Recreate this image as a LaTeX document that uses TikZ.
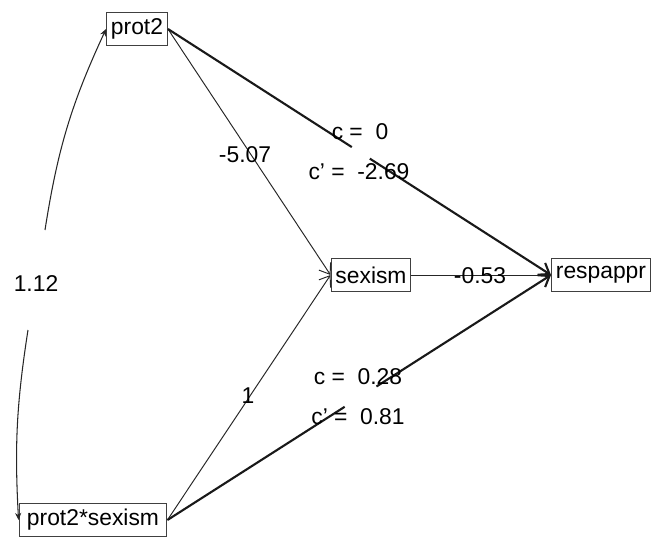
\documentclass[tikz,border=0pt]{standalone}
\usepackage{fontspec}
\setmainfont{Liberation Sans}
\usetikzlibrary{arrows.meta,calc}
\tikzset{
  var/.style={draw=black!75, line width=0.6pt, inner xsep=2.5pt, inner ysep=0pt,
    minimum height=0.66cm, font=\fontsize{13}{15}\selectfont},
  lab/.style={font=\fontsize{13}{15}\selectfont},
  apath/.style={line width=0.55pt, draw=black!85, -{Straight Barb[length=5.5pt,width=8pt]}},
  cpath/.style={line width=1.2pt, draw=black!90, -{Straight Barb[length=5.5pt,width=8pt]}},
  cstub/.style={line width=1.2pt, draw=black!90},
  covpath/.style={line width=0.6pt, draw=black!85, -{Stealth[length=4pt,width=3.5pt]}}
}
\begin{document}
\begin{tikzpicture}[x=0.02cm, y=-0.02cm]
  \useasboundingbox (0,0) rectangle (654,538);
  % variables
  \node[var] (prot2) at (137,29) {prot2};
  \node[var] (sexism) at (371,275) {sexism};
  \node[var] (respappr) at (601,275) {respappr};
  \node[var, inner xsep=4.5pt] (ps) at (93,520) {prot2*sexism};
  % paths a and b
  \draw[apath] (prot2.east) -- (sexism.west);
  \draw[apath] (ps.east) -- (sexism.west);
  \draw[apath] (sexism.east) -- (respappr.west);
  % total and direct effects, broken at the labels
  \coordinate (g1a) at ($(prot2.east)!0.48!(respappr.west)$);
  \coordinate (g1b) at ($(prot2.east)!0.527!(respappr.west)$);
  \coordinate (g2a) at ($(ps.east)!0.462!(respappr.west)$);
  \coordinate (g2b) at ($(ps.east)!0.545!(respappr.west)$);
  \draw[cstub] (prot2.east) -- (g1a);
  \draw[cpath] (g1b) -- (respappr.west);
  \draw[cstub] (ps.east) -- (g2a);
  \draw[cpath] (g2b) -- (respappr.west);
  % covariance
  \coordinate (covtop) at (45,230);
  \coordinate (covbot) at (28,330);
  \draw[covpath] (covtop) to[bend left=8] (prot2.west);
  \draw[covpath] (covbot) to[bend right=6] (ps.west);
  % labels
  \node[lab] (l112) at (36,284) {1.12};
  \node[lab] (l507) at (245,155) {-5.07};
  \node[lab] (l1) at (248,396) {1};
  \node[lab] (l053) at (480,276) {-0.53};
  \node[lab] (c1) at (360,132) {c = \ 0};
  \node[lab] (cp1) at (359,172) {c' = \ -2.69};
  \node[lab] (c2) at (358,377) {c = \ 0.28};
  \node[lab] (cp2) at (358,417) {c' = \ 0.81};
\end{tikzpicture}
\end{document}
